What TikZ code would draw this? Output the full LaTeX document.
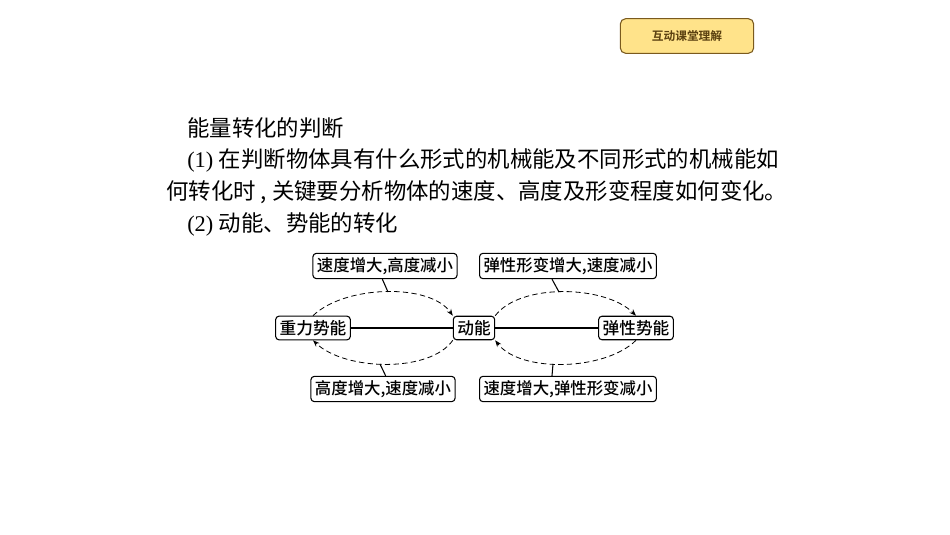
\documentclass[tikz,border=0pt]{standalone}
\usepackage{fontspec}
\setmainfont{Liberation Serif}
\newfontfamily\cjk{Noto Sans CJK SC}
\newfontfamily\cjkb{Noto Sans CJK SC Medium}
\newfontfamily\cjkbb{Noto Sans CJK SC Bold}
\usetikzlibrary{arrows.meta,positioning}
\definecolor{btnfill}{HTML}{FFE38A}
\definecolor{btndraw}{HTML}{7A5A1E}
\definecolor{btntext}{HTML}{5A4010}
\tikzset{
  energy/.style={draw, thick, rounded corners=2.5pt, inner sep=3pt, font=\cjkb\fontsize{12.5}{14}\selectfont},
  change/.style={draw, thick, rounded corners=2.5pt, inner xsep=3pt, inner ysep=3pt, font=\cjkb\fontsize{12.3}{14}\selectfont},
  flow/.style={semithick, dash pattern=on 4pt off 2.5pt, -{Stealth[length=5pt]}},
  tail/.style={thick},
  textline/.style={anchor=west, inner sep=0pt, font=\fontsize{16.8}{20}\selectfont}
}
\begin{document}
\begin{tikzpicture}[x=0.75pt, y=-0.75pt]
    \useasboundingbox (0,0) rectangle (950,535);
    % button
    \node[draw=btndraw, thick, fill=btnfill, rounded corners=4pt, minimum width=100pt, minimum height=26pt,
          font=\cjkbb\fontsize{8.8}{10}\selectfont, text=btntext] (btn) at (687,36) {互动课堂理解};
    % text
    \node[textline] (t1) at (187,128) {\cjk 能量转化的判断};
    \node[textline] (t2) at (187,160) {(1) {\cjk 在判断物体具有什么形式的机械能及不同形式的机械能如}};
    \node[textline] (t3) at (166,192) {\cjk 何转化时 , 关键要分析物体的速度、高度及形变程度如何变化。};
    \node[textline] (t4) at (187,224) {(2) {\cjk 动能、势能的转化}};
    % energies
    \node[energy] (grav) at (313,328) {重力势能};
    \node[energy] (kin) at (474,328) {动能};
    \node[energy] (elas) at (636,328) {弹性势能};
    \draw[thick] (grav) -- (kin) -- (elas);
    % conversions
    \draw[flow] (grav.north) .. controls (345,285) and (430,283) .. (kin.north west);
    \draw[flow] (kin.south west) .. controls (430,373) and (345,371) .. (grav.south);
    \draw[flow] (kin.north east) .. controls (520,283) and (605,285) .. (elas.north);
    \draw[flow] (elas.south) .. controls (605,371) and (520,373) .. (kin.south east);
    % labels
    \node[change] (c1) at (385,266) {速度增大,高度减小};
    \node[change] (c2) at (568,266) {弹性形变增大,速度减小};
    \node[change] (c3) at (383,389) {高度增大,速度减小};
    \node[change] (c4) at (568,389) {速度增大,弹性形变减小};
    \draw[tail] ([xshift=-2]c1.south) -- (388,292);
    \draw[tail] ([xshift=-12]c2.south) -- (559,292);
    \draw[tail] ([xshift=2]c3.north) -- (380,364);
    \draw[tail] ([xshift=-12]c4.north) -- (553,364);
\end{tikzpicture}
\end{document}
